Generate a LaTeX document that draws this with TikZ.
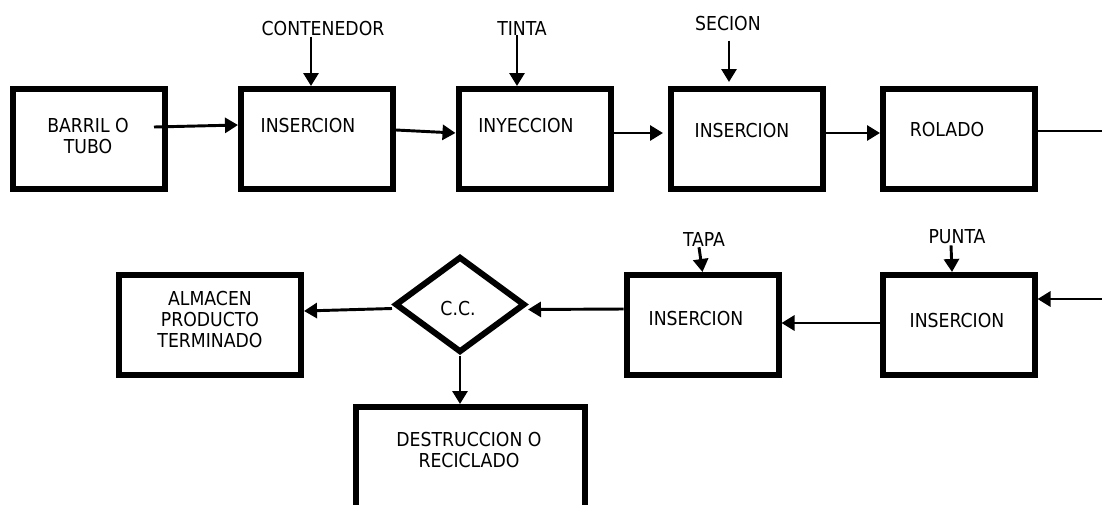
\documentclass[tikz,border=0pt]{standalone}
\usepackage{fontspec}
\setmainfont{DejaVu Sans Condensed}
\usetikzlibrary{arrows.meta,shapes.geometric}

\begin{document}
\begin{tikzpicture}[
  x=0.75pt,y=-0.75pt,
  caja/.style={rectangle,draw,line width=4.5pt,minimum width=114pt,minimum height=75pt,inner sep=0pt},
  rombo/.style={diamond,draw,line width=4.5pt,minimum width=97.5pt,minimum height=72pt,inner sep=0pt},
  texto/.style={align=center,inner sep=0pt,font=\fontsize{14.4}{15.75}\selectfont},
  flecha/.style={line width=2.2pt,-{Triangle[length=9.75pt,width=11.25pt]}},
  linea/.style={line width=2.2pt}]
  \useasboundingbox (0,0) rectangle (1102,504);
  \node[caja](barril) at(89,139){};
  \node[caja](ins1) at(317,139){};
  \node[caja](iny) at(534.5,139){};
  \node[caja](ins2) at(747,139){};
  \node[caja](rolado) at(959,139){};
  \node[caja,minimum width=136.5pt](almacen) at(210,325){};
  \node[caja](ins3) at(702.5,325){};
  \node[caja](ins4) at(958.5,325){};
  \node[caja,minimum width=171.75pt,minimum height=82.5pt](destr) at(470.5,462){};
  \node[rombo](cc) at(460,304.5){};
  \node[texto](tbarril) at(88,136.5){BARRIL O\\TUBO};
  \node[texto](tins1) at(308,126){INSERCION};
  \node[texto](tiny) at(526,126){INYECCION};
  \node[texto](tins2) at(742,131){INSERCION};
  \node[texto](trolado) at(947,130){ROLADO};
  \node[texto](talmacen) at(210,320){ALMACEN\\PRODUCTO\\TERMINADO};
  \node[texto](tcc) at(458,309){C.C.};
  \node[texto](tins3) at(696,319){INSERCION};
  \node[texto](tins4) at(957,321){INSERCION};
  \node[texto](tdestr) at(469,450){DESTRUCCION O\\RECICLADO};
  \node[texto](lcont) at(323,29){CONTENEDOR};
  \node[texto](ltinta) at(522,28){TINTA};
  \node[texto](lsecion) at(728,24){SECION};
  \node[texto](ltapa) at(704,239){TAPA};
  \node[texto](lpunta) at(957,237){PUNTA};
  \coordinate(salida) at(1102,131);
  \coordinate(entrada) at(1102,299);
  % flujo superior
  \draw[flecha]([shift={(-14,-12)}]barril.east)--([shift={(0,-14)}]ins1.west);
  \draw[flecha]([shift={(0,-9)}]ins1.east)--([shift={(0,-6)}]iny.west);
  \draw[flecha]([shift={(0,-6)}]iny.east)--([shift={(-5,-6)}]ins2.west);
  \draw[flecha]([shift={(0,-6)}]ins2.east)--([shift={(0,-6)}]rolado.west);
  \draw[linea]([shift={(0,-8)}]rolado.east)--(salida);
  \draw[flecha]([shift={(-12,0)}]lcont.south)--([shift={(-6,0)}]ins1.north);
  \draw[flecha]([shift={(-5,0)}]ltinta.south)--([shift={(-17.5,0)}]iny.north);
  \draw[flecha]([shift={(1,9)}]lsecion.south)--([shift={(-18,-4)}]ins2.north);
  % flujo inferior
  \draw[flecha](entrada)--([shift={(0,-26)}]ins4.east);
  \draw[flecha]([shift={(0,-2)}]ins4.west)--([shift={(0,-2)}]ins3.east);
  \draw[flecha]([shift={(0,-16)}]ins3.west)--([shift={(0,5)}]cc.east);
  \draw[flecha]([shift={(0,4)}]cc.west)--([shift={(0,-14)}]almacen.east);
  \draw[flecha](cc.south)--(cc.south|-destr.north);
  \draw[flecha]([shift={(-5,1)}]ltapa.south)--(ins3.north);
  \draw[flecha]([shift={(-6,1)}]lpunta.south)--([shift={(-6.5,0)}]ins4.north);
\end{tikzpicture}
\end{document}
